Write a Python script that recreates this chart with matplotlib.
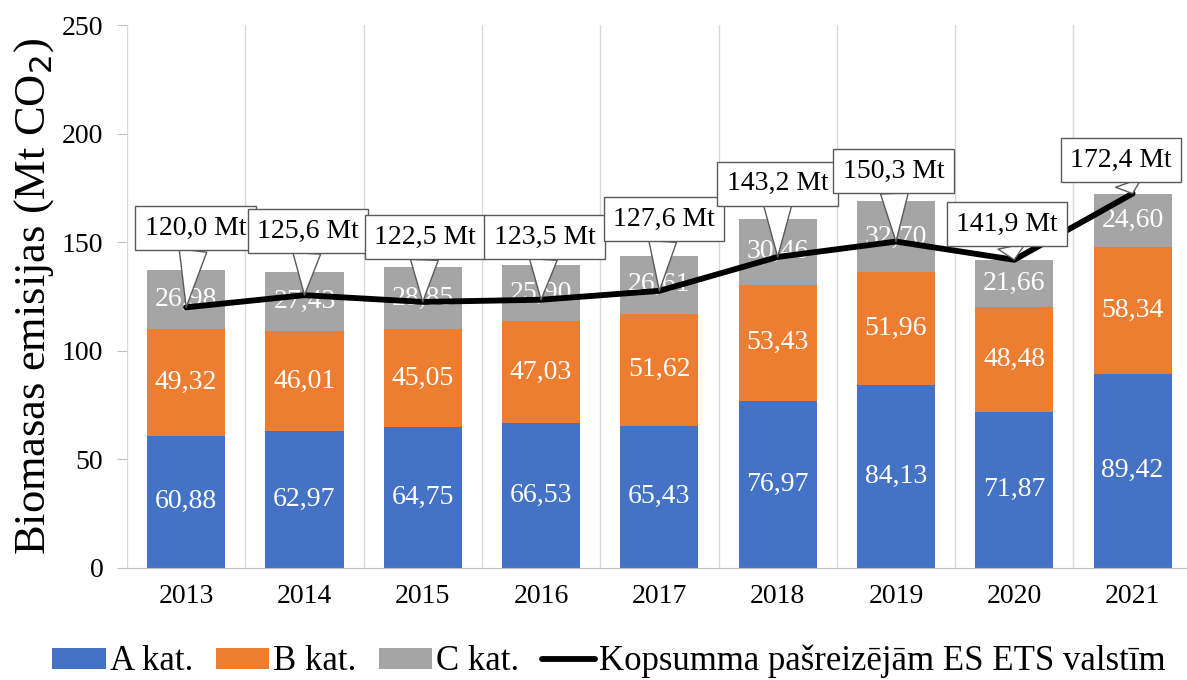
import matplotlib
matplotlib.use("Agg")
import matplotlib.pyplot as plt
import numpy as np

years = ["2013", "2014", "2015", "2016", "2017", "2018", "2019", "2020", "2021"]
cat_a = [60.88, 62.97, 64.75, 66.53, 65.43, 76.97, 84.13, 71.87, 89.42]
cat_b = [49.32, 46.01, 45.05, 47.03, 51.62, 53.43, 51.96, 48.48, 58.34]
cat_c = [26.98, 27.43, 28.85, 25.90, 26.61, 30.46, 32.70, 21.66, 24.60]
total_ets = [120.0, 125.6, 122.5, 123.5, 127.6, 143.2, 150.3, 141.9, 172.4]

# callout label positions (layout)
callout_dx = [0.08, 0.03, 0.02, 0.03, 0.04, 0.0, -0.02, -0.06, -0.1]
callout_y = [156.5, 155.2, 152.2, 152.4, 160.7, 177.0, 182.8, 158.4, 187.8]

plt.rcParams['font.family'] = ['Liberation Serif', 'DejaVu Serif']

fig = plt.figure(figsize=(11.87, 6.8), dpi=100)
ax = fig.add_axes([0.107, 0.165, 0.897, 0.798])

x = np.arange(len(years))
w = 0.66
col_a, col_b, col_c = "#4472C4", "#ED7D31", "#A5A5A5"
bars_a = ax.bar(x, cat_a, w, color=col_a, label="A kat.", zorder=2)
bars_b = ax.bar(x, cat_b, w, bottom=cat_a, color=col_b, label="B kat.", zorder=2)
bot_c = np.array(cat_a) + np.array(cat_b)
bars_c = ax.bar(x, cat_c, w, bottom=bot_c, color=col_c, label="C kat.", zorder=2)

def fmt(v):
    return f"{v:.2f}".replace(".", ",")

for bars, vals in ((bars_a, cat_a), (bars_b, cat_b), (bars_c, cat_c)):
    ax.bar_label(bars, labels=[fmt(v) for v in vals], label_type="center",
                 color="white", fontsize=20, zorder=3)

ax.plot(x, total_ets, color="black", lw=4.2, label="Kopsumma pašreizējām ES ETS valstīm",
        zorder=4, solid_capstyle="round", solid_joinstyle="round")

for i, v in enumerate(total_ets):
    txt = f"{v:.1f}".replace(".", ",") + " Mt"
    ax.annotate(txt, xy=(x[i], v), xytext=(x[i] + callout_dx[i], callout_y[i]),
                ha="center", va="center", fontsize=20, color="black", zorder=6,
                bbox=dict(boxstyle="square,pad=0.34", fc="white", ec="#595959", lw=1),
                arrowprops=dict(arrowstyle="wedge,tail_width=1.0,shrink_factor=0.5",
                                fc="white", ec="#595959", lw=1, shrinkA=0, shrinkB=0),
                annotation_clip=False)

ax.set_xlim(-0.5, 8.5)
ax.set_ylim(0, 250)
ax.set_xticks(x)
ax.set_xticklabels(years, fontsize=20)
ax.set_yticks(np.arange(0, 251, 50))
ax.tick_params(axis="y", labelsize=20, length=7, color="#BFBFBF", pad=10)
ax.tick_params(axis="x", length=0, pad=12)
ax.set_xticks(np.arange(-0.5, 9, 1), minor=True)
ax.tick_params(axis="x", which="minor", length=0)
ax.grid(axis="x", which="minor", color="#D9D9D9", lw=1, zorder=0)
for s in ("top", "right", "left"):
    ax.spines[s].set_visible(False)
ax.spines["bottom"].set_color("#BFBFBF")
ax.set_ylabel("Biomasas emisijas (Mt CO$_2$)", fontsize=32, labelpad=4)

handles, labels = ax.get_legend_handles_labels()
order = [1, 2, 3, 0]
fig.legend([handles[i] for i in order], [labels[i] for i in order],
           loc="center", bbox_to_anchor=(0.513, 0.027), ncol=4, frameon=False,
           fontsize=25, handlelength=1.55, handleheight=0.55, handletextpad=0.1,
           columnspacing=0.65, borderpad=0.1)

fig.savefig("out.png", dpi=100)
